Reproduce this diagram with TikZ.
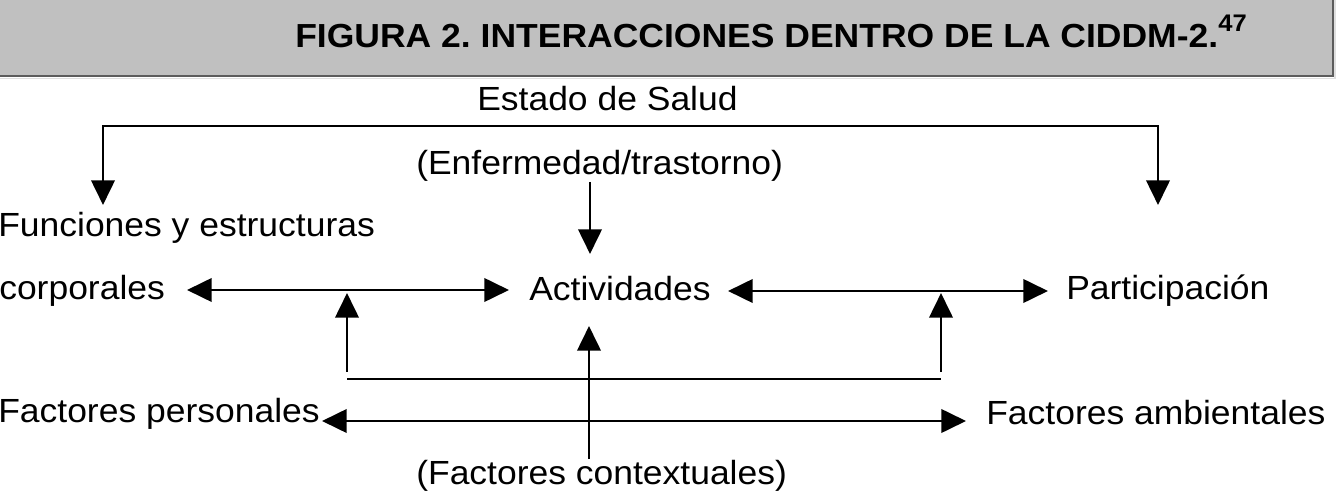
\documentclass[tikz,border=0pt]{standalone}
\usepackage{fontspec}
\usepackage{graphicx}
\setmainfont{Liberation Sans}
\usetikzlibrary{arrows.meta}
\frenchspacing
\definecolor{hdrfill}{RGB}{192,192,192}
\definecolor{hdredge}{RGB}{92,92,92}
\newcommand{\sx}[1]{\scalebox{1.06}[1]{#1}}
\newcommand{\hx}[1]{\scalebox{1.065}[1]{#1}}
\tikzset{
  txt/.style={inner sep=0pt, anchor=base west, font=\fontsize{25.1}{30}\selectfont},
  hdrtxt/.style={inner sep=0pt, anchor=base west, font=\fontsize{25}{30}\selectfont\bfseries},
  conn/.style={line width=2.1pt, black},
  tipped/.style={conn, -{Triangle[length=18.5pt,width=17.5pt]}},
  dbltipped/.style={conn, {Triangle[length=18.5pt,width=17.5pt]}-{Triangle[length=18.5pt,width=17.5pt]}}
}
\begin{document}
\begin{tikzpicture}[x=0.75pt,y=-0.75pt]
\useasboundingbox (0,0) rectangle (1337,498);
% header band
\fill[hdrfill] (0,0) rectangle (1333,76);
\draw[hdredge, line width=1.6pt] (0,76) -- (1333,76) -- (1333,0);
\draw[gray!25, line width=1pt] (0,78.5) -- (1335,78.5) -- (1335,0);
\node[hdrtxt] (title) at (295,48) {\hx{\frenchspacing FIGURA 2. INTERACCIONES DENTRO DE LA CIDDM-2.\raisebox{12pt}{\fontsize{18}{20}\selectfont 47}}};
% texts
\node[txt] (estado) at (477,111) {\sx{Estado de Salud}};
\node[txt] (enferm) at (416,175) {\sx{(Enfermedad/trastorno)}};
\node[txt] (func) at (-2,237) {\sx{Funciones y estructuras}};
\node[txt] (corp) at (-1,300) {\sx{corporales}};
\node[txt] (act) at (529,301) {\sx{Actividades}};
\node[txt] (part) at (1066,300) {\sx{Participación}};
\node[txt] (fpers) at (-2,422) {\sx{Factores personales}};
\node[txt] (famb) at (986,424) {\sx{Factores ambientales}};
\node[txt] (fcont) at (416,484) {\sx{(Factores contextuales)}};
% connector end points
\coordinate (funcTip) at (103,205);
\coordinate (partTip) at (1158,205);
\coordinate (bracketTop) at (630,126);
\coordinate (enfBottom) at (590,182);
\coordinate (actTop) at (590,254);
\coordinate (corpTip) at (187,290);
\coordinate (actLeftTip) at (509,290);
\coordinate (actRightTip) at (728,291);
\coordinate (partLeftTip) at (1048,291);
\coordinate (upLbase) at (347,372);
\coordinate (upLtip) at (347,293);
\coordinate (upRbase) at (941,372);
\coordinate (upRtip) at (941,293);
\coordinate (barL) at (347,379);
\coordinate (barR) at (941,379);
\coordinate (ctxBase) at (589,459);
\coordinate (actBottom) at (589,326);
\coordinate (fpersTip) at (322,421);
\coordinate (fambTip) at (966,421);
% connectors
\draw[dbltipped] (funcTip) |- (bracketTop) -| (partTip);
\draw[tipped] (enfBottom) -- (actTop);
\draw[dbltipped] (corpTip) -- (actLeftTip);
\draw[dbltipped] (actRightTip) -- (partLeftTip);
\draw[tipped] (upLbase) -- (upLtip);
\draw[tipped] (upRbase) -- (upRtip);
\draw[conn] (barL) -- (barR);
\draw[tipped] (ctxBase) -- (actBottom);
\draw[dbltipped] (fpersTip) -- (fambTip);
\end{tikzpicture}
\end{document}
